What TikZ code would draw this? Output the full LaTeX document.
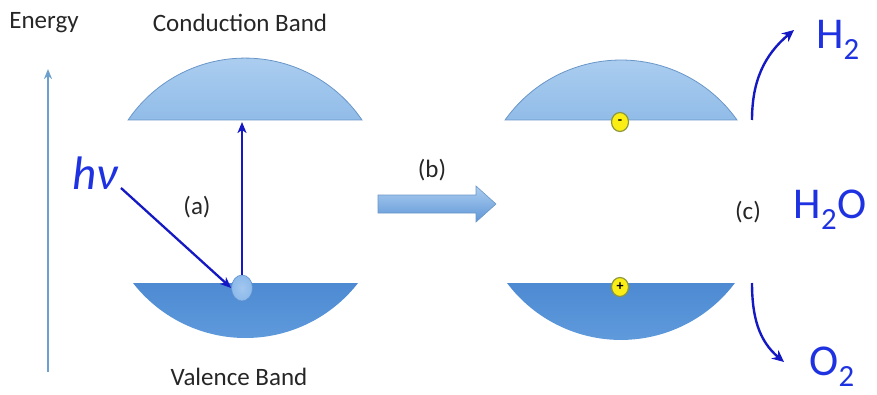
\documentclass[tikz,border=0pt]{standalone}
\usepackage{fontspec}
\setmainfont{Carlito}
\usetikzlibrary{arrows.meta,shapes.geometric}
\definecolor{cbtop}{RGB}{172,206,240}
\definecolor{cbbot}{RGB}{145,188,232}
\definecolor{cbline}{RGB}{105,150,200}
\definecolor{vbtop}{RGB}{78,138,210}
\definecolor{vbbot}{RGB}{95,155,220}
\definecolor{arrblue}{RGB}{20,25,195}
\definecolor{txtblue}{RGB}{30,50,225}
\definecolor{energyc}{RGB}{110,160,205}
\definecolor{yel}{RGB}{250,238,20}
\definecolor{yelline}{RGB}{140,150,60}
\definecolor{elfill}{RGB}{140,185,235}
\definecolor{elline}{RGB}{95,145,205}
\tikzset{
  cband/.style={top color=cbtop,bottom color=cbbot,draw=cbline,line width=0.8pt},
  vband/.style={top color=vbtop,bottom color=vbbot,draw=none},
  lbl/.style={font=\fontsize{25}{30}\selectfont,text=black!85},
  chem/.style={font=\fontsize{44}{48}\selectfont,text=txtblue},
  excite/.style={draw=arrblue,line width=2.3pt,-{Stealth[length=11pt,width=9pt,inset=3pt]}},
  react/.style={draw=arrblue,line width=2.4pt,-{Stealth[length=12pt,width=11pt,inset=4pt]}},
  charge/.style={ellipse,fill=yel,draw=yelline,line width=1.2pt,minimum width=17pt,minimum height=19pt,inner sep=0pt,font=\fontsize{14}{14}\selectfont\bfseries}
}
\begin{document}
\begin{tikzpicture}[x=1pt,y=1pt]
\useasboundingbox (0,0) rectangle (877,394);
% bands left
\path[cband] (362,274) arc[start angle=34.2,end angle=145.8,radius=141.4] -- cycle;
\path[vband] (133,111) arc[start angle=217.9,end angle=322.1,radius=142.6] -- cycle;
% bands right
\path[cband] (737,274) arc[start angle=35.3,end angle=144.7,radius=142.1] -- cycle;
\path[vband] (507,111) arc[start angle=216.9,end angle=323.1,radius=142.5] -- cycle;
% labels
\node[lbl] (energy) at (44,371) {Energy};
\node[lbl] (cbl) at (240,371) {Conduction Band};
\node[lbl] (vbl) at (239,17) {Valence Band};
\node[lbl] (la) at (197,187) {(a)};
\node[lbl] (lb) at (432,224) {(b)};
\node[lbl] (lc) at (748,182) {(c)};
% energy axis
\coordinate (eb) at (48,22);
\coordinate (et) at (48,325);
\draw[energyc,line width=2pt,-{Stealth[length=10pt,width=8pt,inset=3pt]}] (eb) -- (et);
% electron
\node[ellipse,minimum width=21pt,minimum height=26pt,inner sep=0pt,inner color=elfill!80!white,outer color=elfill,draw=elline,line width=0.6pt] (el) at (242,106) {};
\node[font=\fontsize{47}{50}\selectfont\itshape,text=txtblue] (hv) at (95,221) {hν};
\coordinate (cbt) at (242,272);
\coordinate (hs) at (121,206);
\draw[excite] (el.north) -- (cbt);
\draw[excite] (hs) -- (el.west);
% big arrow
\path[top color=cbtop,bottom color=vbtop!90!white,draw=cbline,line width=0.6pt]
  (378,199) -- (476,199) -- (476,208) -- (496,190) -- (476,172) -- (476,181) -- (378,181) -- cycle;
% charges
\node[charge] (minus) at (620,272) {-};
\node[charge] (plus) at (620,107) {+};
% chemistry
\node[chem] (h2) at (838,354) {H\textsubscript{2}};
\node[chem] (h2o) at (830,184) {H\textsubscript{2}O};
\node[chem] (o2) at (832,27) {O\textsubscript{2}};
\coordinate (h2s) at (752,274);
\coordinate (h2e) at (794,364);
\coordinate (o2s) at (752,111);
\coordinate (o2e) at (784,32);
\draw[react] (h2s) to[out=90,in=220] (h2e);
\draw[react] (o2s) to[out=-90,in=140] (o2e);
\end{tikzpicture}
\end{document}
